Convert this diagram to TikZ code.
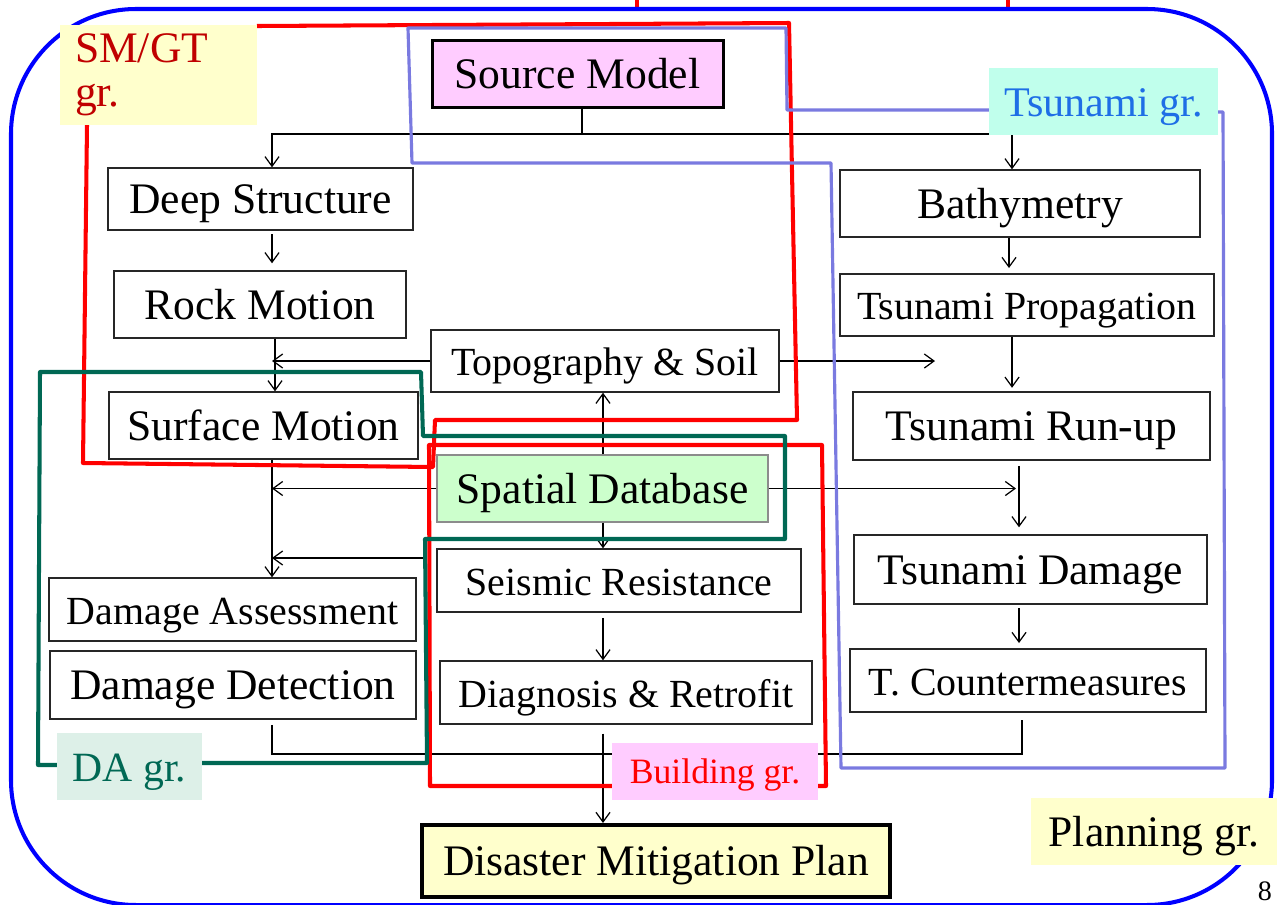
\documentclass[tikz,border=0pt]{standalone}
\usepackage{fontspec}
\setmainfont{Liberation Serif}
\usepackage{xcolor}
\usepackage{tikz}
\usetikzlibrary{arrows.meta}

\definecolor{smgtred}{RGB}{192,0,0}
\definecolor{tsublue}{RGB}{30,110,230}
\definecolor{tsubg}{RGB}{192,255,236}
\definecolor{dagreen}{RGB}{0,104,84}
\definecolor{dabg}{RGB}{221,240,232}
\definecolor{pinkbg}{RGB}{255,204,255}
\definecolor{yellowbg}{RGB}{255,255,204}
\definecolor{greenbg}{RGB}{204,255,204}
\definecolor{tsuline}{RGB}{122,122,224}

\newcommand{\szbig}{\fontsize{24.8}{25}\selectfont}
\newcommand{\szmid}{\fontsize{22.7}{25}\selectfont}

\tikzset{
  sz/.style 2 args={minimum width=#1*0.02cm, minimum height=#2*0.02cm},
  box/.style={draw=black!85, line width=0.8pt, fill=white, inner sep=0pt, text height=20pt, text depth=3pt},
  lin/.style={draw=black, line width=0.7pt},
  arr/.style={lin, -{Straight Barb[length=5.5pt,width=8pt]}},
  grp/.style={line width=2.3pt, line join=round},
  lab/.style={inner sep=0pt, text height=20pt, text depth=3pt}
}

\begin{document}
\begin{tikzpicture}[x=0.02cm, y=-0.02cm]
\useasboundingbox (0,0) rectangle (1277,904);

% boxes
\node[box, sz={291}{67}, line width=1.7pt, draw=black, fill=pinkbg, font=\szbig] (src) at (577.5,73.5) {Source Model};
\node[box, sz={305}{62}, font=\szbig] (deep) at (260.5,199) {Deep Structure};
\node[box, sz={292}{67}, font=\szbig] (rock) at (260,304.5) {Rock Motion};
\node[box, sz={309}{67}, font=\szbig] (surf) at (263.5,425.5) {Surface Motion};
\node[box, sz={348}{62}, font=\szmid] (topo) at (605,361) {Topography \& Soil};
\node[box, sz={331}{67}, draw=black!45, fill=greenbg, font=\szbig] (sdb) at (602.5,488.5) {Spatial Database};
\node[box, sz={364}{63}, font=\szmid] (seis) at (619,580.5) {Seismic Resistance};
\node[box, sz={372}{63}, font=\szmid] (diag) at (626,692.5) {Diagnosis \& Retrofit};
\node[box, sz={468}{72}, line width=2.3pt, draw=black, fill=yellowbg, font=\szbig] (dmp) at (656,861) {Disaster Mitigation Plan};
\node[box, sz={367}{63}, font=\szmid] (dmga) at (232.5,609.5) {Damage Assessment};
\node[box, sz={366}{68}, font=\szbig] (ddet) at (233,685) {Damage Detection};
\node[box, sz={360}{67}, font=\szbig] (bath) at (1020,203.5) {Bathymetry};
\node[box, sz={374}{62}, font=\szmid] (prop) at (1027,305) {Tsunami Propagation};
\node[box, sz={357}{68}, font=\szbig] (run) at (1031.5,426) {Tsunami Run-up};
\node[box, sz={353}{69}, font=\szbig] (tdmg) at (1030.5,569.5) {Tsunami Damage};
\node[box, sz={356}{63}, font=\szmid] (tcm) at (1028,680.5) {T. Countermeasures};

% connectors
\coordinate (split) at (582,134);
\coordinate (tl) at (272,0);
\coordinate (tl2) at (275,0);
\coordinate (tm) at (603,0);
\coordinate (tb) at (1009,0);
\coordinate (tr) at (1012,0);
\coordinate (td) at (1019,0);
\coordinate (topoend) at (935,361);
\coordinate (sdbend) at (1016,492);
\coordinate (seisfeed) at (425,558);
\coordinate (loop) at (1022,754);

\draw[lin] (src.south -| split) -- (split);
\draw[arr] (split) -| (deep.north -| tl);
\draw[arr] (split) -| (bath.north -| tr);
\draw[arr, shorten <=2pt, shorten >=4pt] (deep.south -| tl) -- (rock.north -| tl);
\draw[arr] (rock.south -| tl2) -- (surf.north -| tl2);
\draw[arr] (topo.west) -- (topo.west -| tl);
\draw[arr] (topo.east) -- (topoend);
\draw[arr] (sdb.north -| tm) -- (topo.south -| tm);
\draw[arr] (sdb.south -| tm) -- (seis.north -| tm);
\draw[arr] (sdb.west) -- (sdb.west -| tl);
\draw[arr] (sdb.east) -- (sdb.east -| sdbend);
\draw[arr] (surf.south -| tl) -- (dmga.north -| tl);
\draw[arr] (seisfeed) -- (seisfeed -| tl);
\draw[arr, shorten <=3pt] (seis.south -| tm) -- (diag.north -| tm);
\draw[arr, shorten <=5pt] (diag.south -| tm) -- (dmp.north -| tm);
\draw[arr, shorten >=3pt] (bath.south -| tb) -- (prop.north -| tb);
\draw[arr, shorten >=2pt] (prop.south -| tr) -- (run.north -| tr);
\draw[arr, shorten <=3pt, shorten >=4pt] (run.south -| td) -- (tdmg.north -| td);
\draw[arr, shorten <=2pt, shorten >=3pt] (tdmg.south -| td) -- (tcm.north -| td);
\draw[lin, shorten <=3pt, shorten >=4pt] (ddet.south -| tl) |- (loop) -- (tcm.south -| loop);

% groups
\draw[grp, red] (257,26) -- (789,23) -- (797,420) -- (435,420) -- (433,467) -- (83,463) -- (87,125);
\draw[grp, red] (612,786) -- (430,786) -- (429,445) -- (822,445) -- (826,786) -- (818,786);
\draw[grp, dagreen] (57,765) -- (38,765) -- (40,372) -- (421,372) -- (423,436) -- (785,436) -- (785,539) -- (425,539) -- (427,763) -- (202,763);
\draw[grp, tsuline, line width=1.8pt] (989,110) -- (787,110) -- (786,28) -- (408,28) -- (412,163) -- (831,163) -- (841,768) -- (1225,768) -- (1223,112) -- (1218,112);
\draw[red, line width=2pt] (637,-40) rectangle (1008,9);
\draw[blue, line width=2.3pt, rounded corners=2.5cm] (11,9) rectangle (1272,905);

% group labels
\node[inner sep=0pt, fill=yellowbg, sz={197}{100}, text width=3.34cm, inner xsep=0.3cm, align=left, text=smgtred, font=\szbig] (smlab) at (158.5,75) {SM/GT\\gr.};
\node[lab, fill=tsubg, sz={229}{67}, text=tsublue, font=\fontsize{24}{28}\selectfont] (tsulab) at (1103.5,101.5) {Tsunami gr.};
\node[lab, fill=dabg, sz={145}{67}, text=dagreen, font=\fontsize{23.7}{28}\selectfont] (dalab) at (129.5,766.5) {DA gr.};
\node[lab, fill=pinkbg, sz={206}{57}, text=red, text height=17pt, text depth=2.8pt, font=\fontsize{20.3}{24}\selectfont] (bldlab) at (715,771.5) {Building gr.};
\node[lab, fill=yellowbg, sz={246}{67}, font=\szbig] (planlab) at (1154,831.5) {Planning gr.};
\node[inner sep=0pt, font=\fontsize{16}{18}\selectfont] (page) at (1265,891) {8};
\end{tikzpicture}
\end{document}
